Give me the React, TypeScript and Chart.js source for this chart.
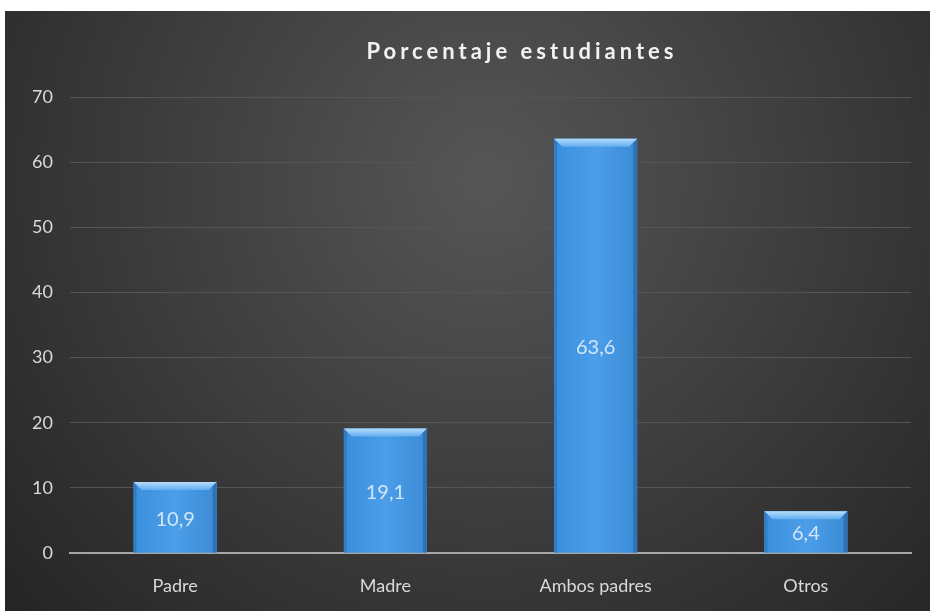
import React, { useEffect, useRef } from "react";
import { Chart, registerables } from "chart.js";

Chart.register(...registerables);

const categories = ["Padre", "Madre", "Ambos padres", "Otros"];
const values = [10.9, 19.1, 63.6, 6.4];
const yTicks = [0, 10, 20, 30, 40, 50, 60, 70];
const title = "Porcentaje estudiantes";

const FONT = "Lato, 'Open Sans', sans-serif";

const bgPlugin = {
  id: "bg",
  beforeDraw(chart: any) {
    const { ctx, width, height } = chart;
    ctx.save();
    const g = ctx.createRadialGradient(width * 0.52, height * 0.28, 0, width * 0.52, height * 0.28, width * 0.72);
    g.addColorStop(0, "#565656");
    g.addColorStop(1, "#232323");
    ctx.fillStyle = g;
    ctx.fillRect(0, 0, width, height);
    ctx.restore();
  },
};

const titlePlugin = {
  id: "customTitle",
  afterDraw(chart: any) {
    const { ctx } = chart;
    ctx.save();
    ctx.fillStyle = "#f2f2f2";
    ctx.font = `bold 22px ${FONT}`;
    (ctx as any).letterSpacing = "4px";
    ctx.textAlign = "center";
    ctx.textBaseline = "middle";
    ctx.fillText(title, 517, 41);
    ctx.restore();
  },
};

const barDecor = {
  id: "barDecor",
  afterDatasetsDraw(chart: any) {
    const { ctx } = chart;
    const meta = chart.getDatasetMeta(0);
    ctx.save();
    meta.data.forEach((bar: any, i: number) => {
      const p = bar.getProps(["x", "y", "base", "width"], true);
      if (![p.x, p.y, p.base, p.width].every(Number.isFinite)) return;
      const l = p.x - p.width / 2;
      const r = p.x + p.width / 2;
      const t = p.y;
      const b = p.base;
      const bev = 8;
      // body gradient
      const hg = ctx.createLinearGradient(l, 0, r, 0);
      hg.addColorStop(0, "#3a8edc");
      hg.addColorStop(0.5, "#4c9ee9");
      hg.addColorStop(1, "#3b8bd5");
      ctx.fillStyle = hg;
      ctx.fillRect(l, t, r - l, b - t);
      // top bevel
      const tg = ctx.createLinearGradient(0, t, 0, t + bev);
      tg.addColorStop(0, "#b5dcfb");
      tg.addColorStop(1, "#62aef1");
      ctx.fillStyle = tg;
      ctx.beginPath();
      ctx.moveTo(l, t);
      ctx.lineTo(r, t);
      ctx.lineTo(r - bev, t + bev);
      ctx.lineTo(l + bev, t + bev);
      ctx.closePath();
      ctx.fill();
      // side bevels
      ctx.fillStyle = "rgba(20,70,130,0.35)";
      ctx.beginPath();
      ctx.moveTo(r, t);
      ctx.lineTo(r, b);
      ctx.lineTo(r - 4, b);
      ctx.lineTo(r - 4, t + 4);
      ctx.closePath();
      ctx.fill();
      ctx.fillStyle = "rgba(20,70,130,0.25)";
      ctx.beginPath();
      ctx.moveTo(l, t);
      ctx.lineTo(l + 3, t + 3);
      ctx.lineTo(l + 3, b);
      ctx.lineTo(l, b);
      ctx.closePath();
      ctx.fill();
      // label
      ctx.fillStyle = "#d2e6f8";
      ctx.font = `20px ${FONT}`;
      ctx.textAlign = "center";
      ctx.textBaseline = "middle";
      const txt = values[i].toFixed(1).replace(".", ",");
      ctx.fillText(txt, p.x, (t + b) / 2 + 2);
    });
    ctx.restore();
  },
};

export default function App() {
  const ref = useRef<HTMLCanvasElement>(null);
  useEffect(() => {
    document.body.style.margin = "0";
    const canvas = ref.current!;
    const ctx = canvas.getContext("2d")!;
    const chart = new Chart(ctx, {
      type: "bar",
      data: {
        labels: categories,
        datasets: [
          {
            data: values,
            backgroundColor: "#4a9be6",
            borderWidth: 0,
            categoryPercentage: 1,
            barPercentage: 0.395,
          },
        ],
      },
      options: {
        responsive: false,
        animation: false,
        layout: { padding: { top: 86, right: 19, left: 0, bottom: 0 } },
        plugins: {
          legend: { display: false },
          title: { display: false },
          tooltip: { enabled: false },
        },
        scales: {
          x: {
            grid: { display: false },
            border: { color: "#a6a6a6", width: 2 },
            ticks: { color: "#d9d9d9", font: { family: FONT, size: 18 }, padding: 14 },
            afterFit: (s: any) => {
              s.height = 58;
            },
          },
          y: {
            min: 0,
            max: 70,
            afterBuildTicks: (s: any) => {
              s.ticks = yTicks.map((v) => ({ value: v }));
            },
            grid: { color: "#555555", lineWidth: 1, drawTicks: false },
            border: { display: false },
            ticks: { color: "#d9d9d9", font: { family: FONT, size: 18 }, padding: 17 },
            afterFit: (s: any) => {
              s.width = 65;
            },
          },
        },
      },
      plugins: [bgPlugin, titlePlugin, barDecor],
    });
    return () => chart.destroy();
  }, []);
  return (
    <div style={{ paddingTop: 11, paddingLeft: 5, background: "#fff" }}>
      <canvas ref={ref} width={925} height={600} style={{ display: "block" }} />
    </div>
  );
}
